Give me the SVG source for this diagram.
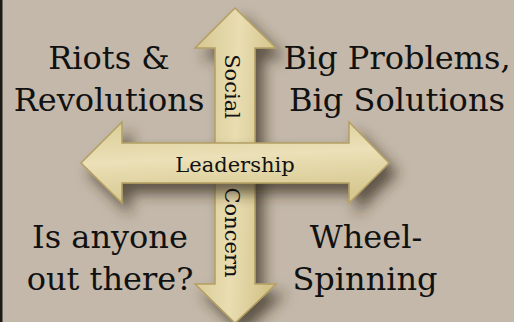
<svg xmlns="http://www.w3.org/2000/svg" width="514" height="322" viewBox="0 0 514 322">
  <defs>
    <linearGradient id="goldV" x1="0" y1="0" x2="1" y2="0.15">
      <stop offset="0" stop-color="#d6c790"/>
      <stop offset="0.55" stop-color="#e9ddb2"/>
      <stop offset="1" stop-color="#d4c48a"/>
    </linearGradient>
    <linearGradient id="goldH" x1="0" y1="0" x2="0.2" y2="1">
      <stop offset="0" stop-color="#dacd97"/>
      <stop offset="0.5" stop-color="#ebe0b7"/>
      <stop offset="1" stop-color="#d7c890"/>
    </linearGradient>
    <filter id="shadow" x="-20%" y="-20%" width="150%" height="150%">
      <feDropShadow dx="8" dy="10" stdDeviation="7" flood-color="#33291e" flood-opacity="0.7"/>
    </filter>
    <style>
      .arrow { stroke: #b39f62; stroke-width: 1.5; stroke-linejoin: miter; }
      .big { font-family: "DejaVu Serif", "Liberation Serif", serif; font-size: 32px; fill: #111; text-anchor: middle; }
      .axis { font-family: "DejaVu Serif", "Liberation Serif", serif; font-size: 21px; fill: #111; text-anchor: middle; }
    </style>
  </defs>

  <!-- backdrop -->
  <rect x="0" y="0" width="514" height="322" fill="#c3b8a9"/>
  <rect x="0" y="0" width="2.5" height="322" fill="#1c1a18"/>

  <!-- axes -->
  <g id="connectors">
    <g id="social-concern-axis" filter="url(#shadow)">
      <polygon class="arrow" fill="url(#goldV)" points="235,8 276,48 255,48 255,284 276,284 235,323 195,284 215,284 215,48 195,48"/>
    </g>
    <g id="leadership-axis" filter="url(#shadow)">
      <polygon class="arrow" fill="url(#goldH)" points="81,163 122,122 122,143 349,143 349,122 389,163 349,203 349,183 122,183 122,203"/>
    </g>
  </g>

  <!-- axis labels -->
  <g id="label-leadership">
    <text class="axis" x="235" y="172">Leadership</text>
  </g>
  <g id="label-social">
    <text class="axis" transform="translate(235,86.5) rotate(90)" x="0" y="10">Social</text>
  </g>
  <g id="label-concern">
    <text class="axis" transform="translate(235,232.5) rotate(90)" x="0" y="10">Concern</text>
  </g>

  <!-- quadrants -->
  <g id="quadrant-top-left">
    <text class="big" x="109" y="69">Riots &amp;</text>
    <text class="big" x="109" y="111">Revolutions</text>
  </g>
  <g id="quadrant-top-right">
    <text class="big" x="397" y="69">Big Problems,</text>
    <text class="big" x="397" y="111">Big Solutions</text>
  </g>
  <g id="quadrant-bottom-left">
    <text class="big" x="110" y="248">Is anyone</text>
    <text class="big" x="110" y="290">out there?</text>
  </g>
  <g id="quadrant-bottom-right">
    <text class="big" x="366" y="248">Wheel-</text>
    <text class="big" x="365" y="290">Spinning</text>
  </g>
</svg>
